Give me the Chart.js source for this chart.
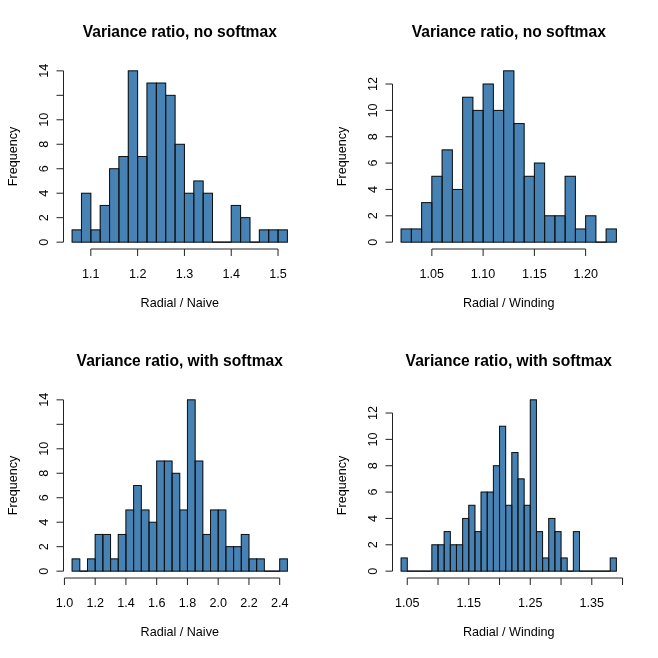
<!DOCTYPE html>
<html lang="en">

<head>
    <meta charset="UTF-8">
    <title>Variance ratio histograms</title>
    <script src="https://cdn.jsdelivr.net/npm/chart.js"></script>
    <style>
        body { margin: 0; background: #fff; }
        #grid { position: relative; width: 658px; height: 658px; }
        #grid canvas { position: absolute; }
    </style>
</head>

<body>
    <div id="grid">
        <canvas id="h1" width="329" height="329" style="left:0;top:0"></canvas>
        <canvas id="h2" width="329" height="329" style="left:329px;top:0"></canvas>
        <canvas id="h3" width="329" height="329" style="left:0;top:329px"></canvas>
        <canvas id="h4" width="329" height="329" style="left:329px;top:329px"></canvas>
    </div>

    <script>
        // histogram breaks and counts
        const naiveNoSoftBreaks = [1.06, 1.08, 1.10, 1.12, 1.14, 1.16, 1.18, 1.20, 1.22, 1.24, 1.26, 1.28,
            1.30, 1.32, 1.34, 1.36, 1.38, 1.40, 1.42, 1.44, 1.46, 1.48, 1.50, 1.52];
        const naiveNoSoftCounts = [1, 4, 1, 3, 6, 7, 14, 7, 13, 13, 12, 8, 4, 5, 4, 0, 0, 3, 2, 0, 1, 1, 1];

        const windNoSoftBreaks = [1.02, 1.03, 1.04, 1.05, 1.06, 1.07, 1.08, 1.09, 1.10, 1.11, 1.12,
            1.13, 1.14, 1.15, 1.16, 1.17, 1.18, 1.19, 1.20, 1.21, 1.22, 1.23];
        const windNoSoftCounts = [1, 1, 3, 5, 7, 4, 11, 10, 12, 10, 13, 9, 5, 6, 2, 2, 5, 1, 2, 0, 1];

        const naiveSoftBreaks = [1.05, 1.10, 1.15, 1.20, 1.25, 1.30, 1.35, 1.40, 1.45, 1.50, 1.55, 1.60,
            1.65, 1.70, 1.75, 1.80, 1.85, 1.90, 1.95, 2.00, 2.05, 2.10, 2.15, 2.20, 2.25, 2.30, 2.35, 2.40, 2.45];
        const naiveSoftCounts = [1, 0, 1, 3, 3, 1, 3, 5, 7, 5, 4, 9, 9, 8, 5, 14, 9, 3, 5, 5, 2, 2, 3, 1, 1, 0, 0, 1];

        const windSoftBreaks = [1.04, 1.05, 1.06, 1.07, 1.08, 1.09, 1.10, 1.11, 1.12, 1.13, 1.14, 1.15,
            1.16, 1.17, 1.18, 1.19, 1.20, 1.21, 1.22, 1.23, 1.24, 1.25, 1.26, 1.27, 1.28, 1.29, 1.30,
            1.31, 1.32, 1.33, 1.34, 1.35, 1.36, 1.37, 1.38, 1.39];
        const windSoftCounts = [1, 0, 0, 0, 0, 2, 2, 3, 2, 2, 4, 5, 3, 6, 6, 8, 11, 5, 9, 7, 5, 13, 3, 1,
            4, 3, 1, 0, 3, 0, 0, 0, 0, 0, 1];

        // axis ticks and their labels (blank = label dropped as in the picture)
        const naiveNoSoftXTicks = [1.1, 1.2, 1.3, 1.4, 1.5];
        const naiveNoSoftXLabels = ['1.1', '1.2', '1.3', '1.4', '1.5'];
        const windNoSoftXTicks = [1.05, 1.10, 1.15, 1.20];
        const windNoSoftXLabels = ['1.05', '1.10', '1.15', '1.20'];
        const naiveSoftXTicks = [1.0, 1.2, 1.4, 1.6, 1.8, 2.0, 2.2, 2.4];
        const naiveSoftXLabels = ['1.0', '1.2', '1.4', '1.6', '1.8', '2.0', '2.2', '2.4'];
        const windSoftXTicks = [1.05, 1.10, 1.15, 1.20, 1.25, 1.30, 1.35, 1.40];
        const windSoftXLabels = ['1.05', '', '1.15', '', '1.25', '', '1.35', ''];

        const yTicks14 = [0, 2, 4, 6, 8, 10, 12, 14];
        const yLabels14 = ['0', '2', '4', '6', '8', '10', '', '14'];
        const yTicks12 = [0, 2, 4, 6, 8, 10, 12];
        const yLabels12 = ['0', '2', '4', '6', '8', '10', '12'];

        const FONT = '"Liberation Sans", Arial, Helvetica, sans-serif';
        const LINE = 15.6; // one margin line in px

        // R style axes, titles and bar outlines
        const rAxes = {
            id: 'rAxes',
            afterDatasetsDraw(chart) {
                const ctx = chart.ctx;
                const meta = chart.getDatasetMeta(0);
                ctx.save();
                ctx.strokeStyle = '#111';
                ctx.lineWidth = 1;
                meta.data.forEach(bar => {
                    const p = bar.getProps(['x', 'y', 'base', 'width']);
                    ctx.strokeRect(p.x - p.width / 2, p.y, p.width, p.base - p.y);
                });
                ctx.restore();
            },
            afterDraw(chart) {
                const o = chart.options.plugins.rAxes;
                const ctx = chart.ctx;
                const area = chart.chartArea;
                const xs = chart.scales.x, ys = chart.scales.y;
                const tick = 7;
                ctx.save();
                ctx.strokeStyle = '#222';
                ctx.fillStyle = '#000';
                ctx.lineWidth = 1;

                // x axis
                const yb = area.bottom;
                const x0 = xs.getPixelForValue(o.xTicks[0]);
                const x1 = xs.getPixelForValue(o.xTicks[o.xTicks.length - 1]);
                ctx.beginPath();
                ctx.moveTo(x0, yb);
                ctx.lineTo(x1, yb);
                o.xTicks.forEach(v => {
                    const px = xs.getPixelForValue(v);
                    ctx.moveTo(px, yb);
                    ctx.lineTo(px, yb + tick);
                });
                ctx.stroke();
                ctx.font = '12.6px ' + FONT;
                ctx.textAlign = 'center';
                ctx.textBaseline = 'alphabetic';
                o.xTicks.forEach((v, i) => {
                    if (o.xLabels[i]) ctx.fillText(o.xLabels[i], xs.getPixelForValue(v), yb + 29);
                });
                ctx.fillText(o.xlab, (area.left + area.right) / 2, yb + 58);

                // y axis
                const xl = area.left;
                const y0 = ys.getPixelForValue(o.yTicks[0]);
                const y1 = ys.getPixelForValue(o.yTicks[o.yTicks.length - 1]);
                ctx.beginPath();
                ctx.moveTo(xl, y0);
                ctx.lineTo(xl, y1);
                o.yTicks.forEach(v => {
                    const py = ys.getPixelForValue(v);
                    ctx.moveTo(xl, py);
                    ctx.lineTo(xl - tick, py);
                });
                ctx.stroke();
                o.yTicks.forEach((v, i) => {
                    if (!o.yLabels[i]) return;
                    ctx.save();
                    ctx.translate(xl - LINE, ys.getPixelForValue(v));
                    ctx.rotate(-Math.PI / 2);
                    ctx.fillText(o.yLabels[i], 0, 0);
                    ctx.restore();
                });
                ctx.save();
                ctx.translate(xl - 3 * LINE, (area.top + area.bottom) / 2);
                ctx.rotate(-Math.PI / 2);
                ctx.fillText('Frequency', 0, 0);
                ctx.restore();

                // main title
                ctx.font = 'bold 15.6px ' + FONT;
                ctx.fillText(o.title, (area.left + area.right) / 2, area.top - 27);
                ctx.restore();
            }
        };

        function makeHist(id, title, xlab, breaks, counts, xTicks, xLabels, yTicks, yLabels) {
            const points = counts.map((c, i) => ({ x: (breaks[i] + breaks[i + 1]) / 2, y: c }));
            const lo = breaks[0], hi = breaks[breaks.length - 1];
            const top = Math.max(...counts);
            new Chart(document.getElementById(id), {
                type: 'bar',
                data: {
                    datasets: [{
                        data: points,
                        backgroundColor: '#4682B4',
                        borderWidth: 0,
                        barPercentage: 1,
                        categoryPercentage: 1,
                    }]
                },
                options: {
                    responsive: false,
                    animation: false,
                    events: [],
                    layout: { padding: { left: 63.5, right: 33, top: 64, bottom: 80 } },
                    scales: {
                        x: {
                            type: 'linear', display: false, offset: false,
                            min: lo - 0.04 * (hi - lo), max: hi + 0.04 * (hi - lo)
                        },
                        y: { display: false, min: -0.04 * top, max: 1.04 * top },
                    },
                    plugins: {
                        legend: { display: false },
                        tooltip: { enabled: false },
                        rAxes: { title, xlab, xTicks, xLabels, yTicks, yLabels },
                    },
                },
                plugins: [rAxes],
            });
        }

        makeHist('h1', 'Variance ratio, no softmax', 'Radial / Naive', naiveNoSoftBreaks, naiveNoSoftCounts,
            naiveNoSoftXTicks, naiveNoSoftXLabels, yTicks14, yLabels14);
        makeHist('h2', 'Variance ratio, no softmax', 'Radial / Winding', windNoSoftBreaks, windNoSoftCounts,
            windNoSoftXTicks, windNoSoftXLabels, yTicks12, yLabels12);
        makeHist('h3', 'Variance ratio, with softmax', 'Radial / Naive', naiveSoftBreaks, naiveSoftCounts,
            naiveSoftXTicks, naiveSoftXLabels, yTicks14, yLabels14);
        makeHist('h4', 'Variance ratio, with softmax', 'Radial / Winding', windSoftBreaks, windSoftCounts,
            windSoftXTicks, windSoftXLabels, yTicks12, yLabels12);
    </script>
</body>

</html>
